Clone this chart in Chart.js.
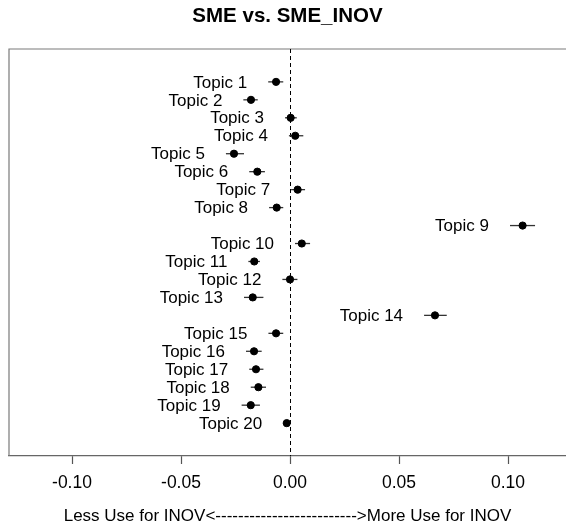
<!DOCTYPE html>
<html>
<head>
<meta charset="utf-8">
<script src="https://cdn.jsdelivr.net/npm/chart.js@4"></script>
<style>
  html, body { margin: 0; padding: 0; background: #fff; overflow: hidden; }
  #wrap { width: 566px; height: 525px; }
</style>
</head>
<body>
<div id="wrap"><canvas id="chart"></canvas></div>
<script>
// Data
const topics = ["Topic 1", "Topic 2", "Topic 3", "Topic 4", "Topic 5", "Topic 6", "Topic 7",
  "Topic 8", "Topic 9", "Topic 10", "Topic 11", "Topic 12", "Topic 13", "Topic 14",
  "Topic 15", "Topic 16", "Topic 17", "Topic 18", "Topic 19", "Topic 20"];
const estimates = [-0.0064, -0.0179, 0.0003, 0.0024, -0.0257, -0.0150, 0.0035, -0.0061, 0.1067, 0.0054,
  -0.0164, 0.0000, -0.0171, 0.0665, -0.0064, -0.0165, -0.0156, -0.0145, -0.0180, -0.0015];
const lower = [-0.0100, -0.0214, -0.0023, -0.0005, -0.0294, -0.0187, 0.0005, -0.0096, 0.1009, 0.0023,
  -0.0191, -0.0035, -0.0211, 0.0615, -0.0099, -0.0202, -0.0187, -0.0180, -0.0222, -0.0031];
const upper = [-0.0031, -0.0148, 0.0031, 0.0061, -0.0211, -0.0115, 0.0069, -0.0031, 0.1124, 0.0092,
  -0.0138, 0.0034, -0.0122, 0.0719, -0.0031, -0.0130, -0.0122, -0.0110, -0.0138, 0.0000];
const xTicks = [-0.10, -0.05, 0.00, 0.05, 0.10];

const FONT = "'Liberation Sans', Arial, sans-serif";

// box, zero line, error bars and topic labels
const forestPlugin = {
  id: "forest",
  beforeDatasetsDraw(chart) {
    const { ctx, chartArea: a, scales: { x, y } } = chart;
    ctx.save();
    // box (top and left; bottom is the x axis border)
    ctx.strokeStyle = "#7a7a7a";
    ctx.lineWidth = 1.2;
    ctx.beginPath();
    ctx.moveTo(a.left, a.bottom);
    ctx.lineTo(a.left, a.top);
    ctx.lineTo(a.right + 2, a.top);
    ctx.stroke();

    // dashed zero line
    const x0 = Math.round(x.getPixelForValue(0)) + 0.5;
    ctx.strokeStyle = "#000";
    ctx.lineWidth = 1;
    ctx.setLineDash([4, 3]);
    ctx.beginPath();
    ctx.moveTo(x0, a.top);
    ctx.lineTo(x0, a.bottom);
    ctx.stroke();
    ctx.setLineDash([]);

    // error bars
    ctx.strokeStyle = "#333";
    ctx.lineWidth = 1.3;
    topics.forEach((t, i) => {
      const py = y.getPixelForValue(i + 1);
      ctx.beginPath();
      ctx.moveTo(x.getPixelForValue(lower[i]), py);
      ctx.lineTo(x.getPixelForValue(upper[i]), py);
      ctx.stroke();
    });

    // labels
    ctx.fillStyle = "#000";
    ctx.font = "17px " + FONT;
    ctx.textAlign = "right";
    ctx.textBaseline = "middle";
    topics.forEach((t, i) => {
      const py = y.getPixelForValue(i + 1);
      ctx.fillText(t, x.getPixelForValue(lower[i]) - 21, py + 1);
    });
    ctx.restore();
  }
};

new Chart(document.getElementById("chart"), {
  type: "scatter",
  data: {
    datasets: [{
      data: estimates.map((v, i) => ({ x: v, y: i + 1 })),
      backgroundColor: "#000",
      borderColor: "#000",
      pointRadius: 3.6,
      pointHoverRadius: 3.6
    }]
  },
  options: {
    responsive: true,
    maintainAspectRatio: false,
    animation: false,
    layout: { autoPadding: false, padding: { left: 9, right: 0, top: 0, bottom: -2 } },
    plugins: {
      legend: { display: false },
      tooltip: { enabled: false },
      title: {
        display: true,
        text: "SME vs. SME_INOV",
        color: "#000",
        font: { family: FONT, size: 20.5, weight: "bold" },
        padding: { top: 4, bottom: 20.4 }
      }
    },
    scales: {
      x: {
        type: "linear",
        min: -0.1289,
        max: 0.1266,
        afterBuildTicks: (scale) => {
          scale.ticks = xTicks.map((v) => ({ value: v }));
        },
        grid: {
          drawOnChartArea: false,
          drawTicks: true,
          tickLength: 8,
          tickWidth: 1.2,
          tickColor: "#555"
        },
        border: { display: true, color: "#666", width: 1.2 },
        ticks: {
          padding: 9,
          color: "#000",
          font: { family: FONT, size: 17.5 },
          callback: (v) => Number(v).toFixed(2),
          maxRotation: 0
        },
        title: {
          display: true,
          text: "Less Use for INOV<------------------------->More Use for INOV",
          color: "#000",
          font: { family: FONT, size: 17 },
          padding: { top: 3.6, bottom: 0 }
        }
      },
      y: {
        type: "linear",
        display: false,
        reverse: true,
        min: -0.83,
        max: 21.83
      }
    }
  },
  plugins: [forestPlugin]
});
</script>
</body>
</html>
